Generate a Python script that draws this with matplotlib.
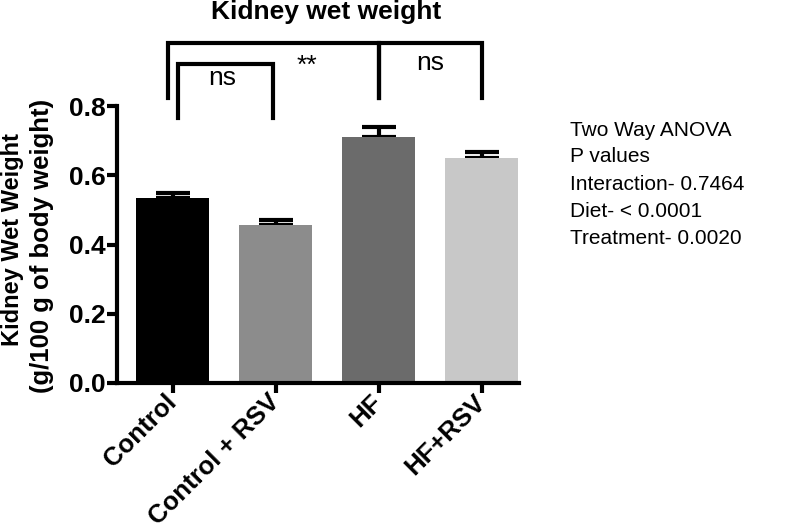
import matplotlib.pyplot as plt
import numpy as np

plt.rcParams['font.family'] = ['Liberation Sans', 'DejaVu Sans']

groups = ['Control', 'Control + RSV', 'HF', 'HF+RSV']
means = [0.535, 0.455, 0.711, 0.650]
sems = [0.015, 0.015, 0.028, 0.018]
colors = ['#000000', '#8c8c8c', '#6b6b6b', '#c8c8c8']
anova_lines = ['Two Way ANOVA', 'P values', 'Interaction- 0.7464',
               'Diet- < 0.0001', 'Treatment- 0.0020']

W, H = 787, 532
fig = plt.figure(figsize=(W / 100, H / 100), dpi=100)
ax = fig.add_axes([117 / W, 1 - 383 / H, (519 - 117) / W, (383 - 106) / H])

x = np.arange(len(groups))
ax.bar(x, means, width=0.71, color=colors, zorder=2)
ax.errorbar(x, means, yerr=[[0] * 4, sems], fmt='none', ecolor='black',
            elinewidth=3, capsize=12, capthick=3, zorder=1)

ax.set_xlim(-0.54, 3.36)
ax.set_ylim(0, 0.8)
ax.set_yticks([0.0, 0.2, 0.4, 0.6, 0.8])
ax.set_yticklabels(['0.0', '0.2', '0.4', '0.6', '0.8'], fontsize=19, fontweight='bold')
ax.set_xticks(x)
ax.set_xticklabels(groups, rotation=45, ha='right', va='center',
                   rotation_mode='anchor', fontsize=18.5, fontweight='bold')
for s in ['top', 'right']:
    ax.spines[s].set_visible(False)
for s in ['left', 'bottom']:
    ax.spines[s].set_linewidth(3)
ax.tick_params(width=3, length=7, direction='out')
ax.tick_params(axis='y', pad=1)
ax.tick_params(axis='x', pad=4)

# y label, two lines of slightly different sizes
fig.text(13 / W, 1 - 240 / H, 'Kidney Wet Weight', rotation=90, fontsize=17,
         fontweight='bold', ha='center', va='center')
fig.text(42 / W, 1 - 246 / H, '(g/100 g of body weight)', rotation=90,
         fontsize=18.5, fontweight='bold', ha='center', va='center')
fig.text(326 / W, 1 - 12 / H, 'Kidney wet weight', fontsize=19,
         fontweight='bold', ha='center', va='center')


def bracket(x1, x2, ybot, ytop):
    ax.plot([x1, x1, x2, x2], [ybot, ytop, ytop, ybot], color='black', lw=3,
            clip_on=False, solid_joinstyle='miter')


bracket(-0.05, 2.0, 0.824, 0.983)
bracket(0.05, 0.97, 0.766, 0.922)
bracket(2.0, 3.0, 0.824, 0.983)
ax.text(0.485, 0.881, 'ns', ha='center', va='center', fontsize=19, clip_on=False)
ax.text(1.30, 0.915, '**', ha='center', va='center', fontsize=19, clip_on=False)
ax.text(2.5, 0.925, 'ns', ha='center', va='center', fontsize=19, clip_on=False)

for i, line in enumerate(anova_lines):
    fig.text(570 / W, 1 - (130 + 27 * i) / H, line, fontsize=15,
             ha='left', va='center')

fig.savefig('out.png', dpi=100)
